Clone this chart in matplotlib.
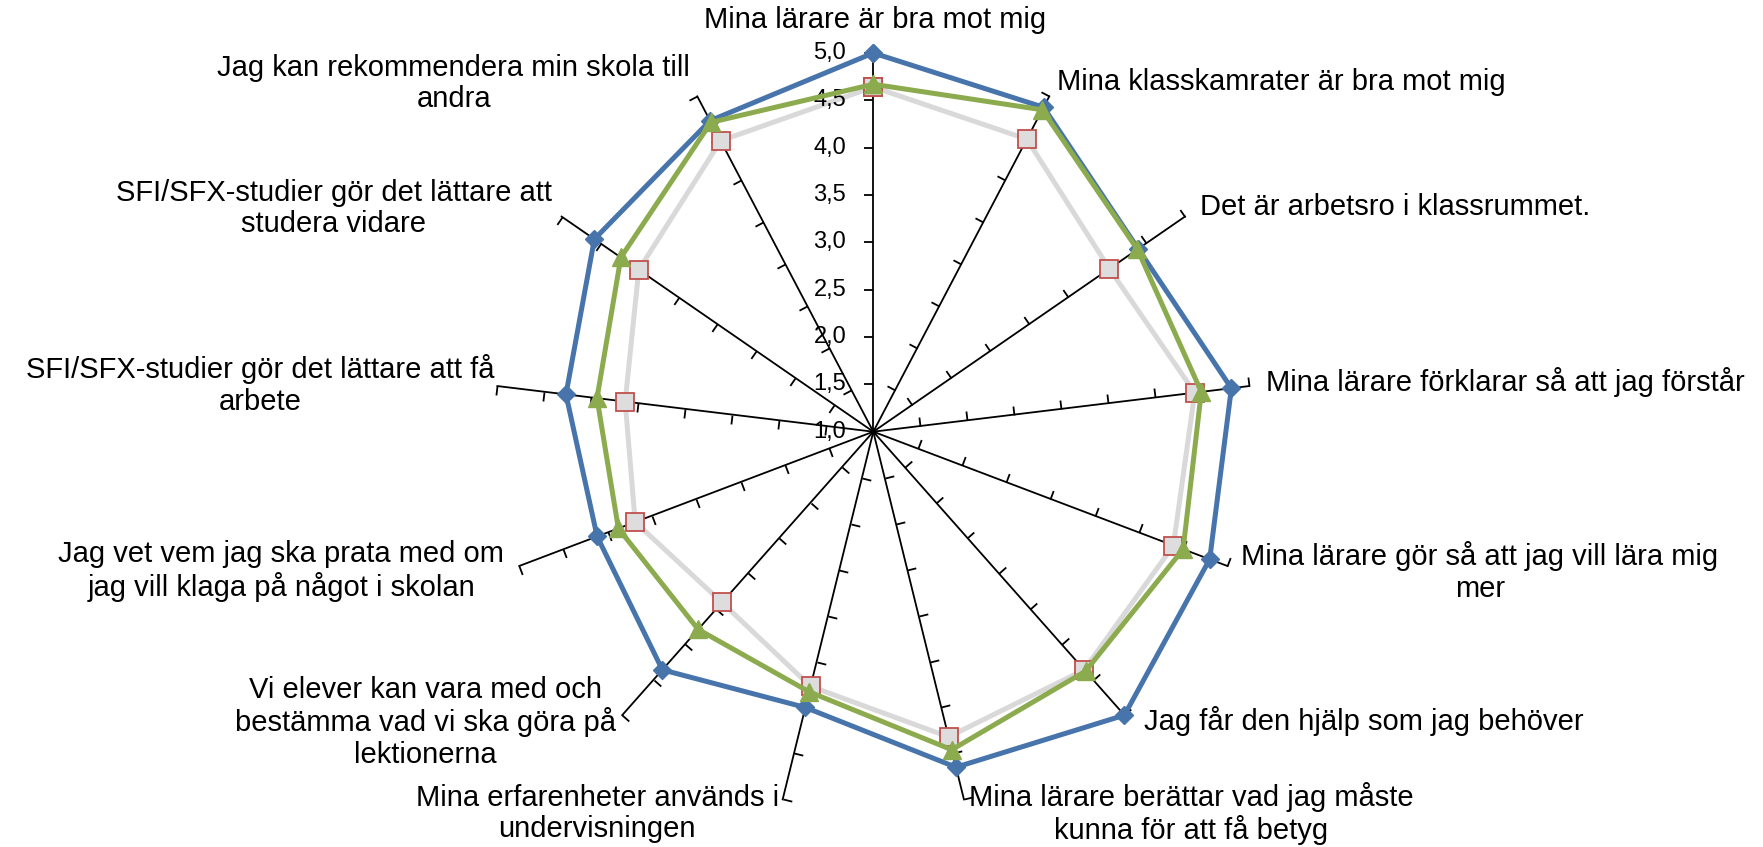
import numpy as np
import matplotlib
matplotlib.use('Agg')
import matplotlib.pyplot as plt
from matplotlib.markers import MarkerStyle
from matplotlib.path import Path

plt.rcParams['font.family'] = ['Liberation Sans', 'DejaVu Sans']

categories = ['Mina lärare är bra mot mig',
              'Mina klasskamrater är bra mot mig',
              'Det är arbetsro i klassrummet.',
              'Mina lärare förklarar så att jag förstår',
              'Mina lärare gör så att jag vill lära mig\nmer',
              'Jag får den hjälp som jag behöver',
              'Mina lärare berättar vad jag måste\nkunna för att få betyg',
              'Mina erfarenheter används i\nundervisningen',
              'Vi elever kan vara med och\nbestämma vad vi ska göra på\nlektionerna',
              'Jag vet vem jag ska prata med om\njag vill klaga på något i skolan',
              'SFI/SFX-studier gör det lättare att få\narbete',
              'SFI/SFX-studier gör det lättare att\nstudera vidare',
              'Jag kan rekommendera min skola till\nandra']

series_blue = [5.00, 4.87, 4.40, 4.81, 4.80, 5.00, 4.65, 4.00, 4.36, 4.12, 4.27, 4.58, 4.71]
series_gray = [4.64, 4.49, 4.03, 4.42, 4.39, 4.36, 4.32, 3.77, 3.41, 3.69, 3.64, 4.01, 4.47]
series_green = [4.67, 4.84, 4.39, 4.49, 4.50, 4.38, 4.46, 3.83, 3.79, 3.88, 3.94, 4.24, 4.69]

r_ticks = [1.0, 1.5, 2.0, 2.5, 3.0, 3.5, 4.0, 4.5, 5.0]
r_tick_labels = ['1,0', '1,5', '2,0', '2,5', '3,0', '3,5', '4,0', '4,5', '5,0']

# label offsets (pixels) from the end of each spoke, plus alignment
label_pos = [((2, 33), 'center'), ((8, 14), 'left'), ((15, 10), 'left'),
             ((17, 4), 'left'), ((14, -6), 'left'), ((20, -6), 'left'),
             ((5, -14), 'left'), ((-4, -14), 'right'), ((-6, -7), 'right'),
             ((-15, -5), 'right'), ((-3, 1), 'right'), ((-10, 8), 'right'),
             ((-7, 13), 'right')]

n = len(categories)
theta = np.arange(n) * 2 * np.pi / n

fig = plt.figure(figsize=(17.63, 8.47), dpi=100)
cx, cy, R = 873.3, 847 - 431.7, 378.7
ax = fig.add_axes([(cx - R) / 1763, (cy - R) / 847, 2 * R / 1763, 2 * R / 847],
                  projection='polar')
ax.set_theta_offset(np.pi / 2)
ax.set_theta_direction(-1)
ax.set_ylim(1, 5)
ax.grid(False)
ax.spines['polar'].set_visible(False)
ax.set_xticks([])
ax.set_yticks([])
ax.patch.set_visible(False)

# spokes with small ticks on the counter-clockwise side
tick_path = Path([(0, 0), (1, 0)], [Path.MOVETO, Path.LINETO])
for t in theta:
    ax.plot([t, t], [1, 5], color='black', linewidth=1.3, zorder=1, clip_on=False)
    # screen direction of spoke is (sin t, cos t); ccw normal is (-cos t, sin t)
    deg = np.degrees(np.arctan2(np.sin(t), -np.cos(t)))
    m = MarkerStyle(tick_path).rotated(deg=deg)
    ax.plot([t] * (len(r_ticks) - 1), r_ticks[1:], linestyle='none', marker=m,
            markersize=13, markeredgewidth=1.3, markeredgecolor='black',
            zorder=1, clip_on=False)

th = np.append(theta, theta[0])
ax.plot(th, series_gray + series_gray[:1], color='#D9D9D9', linewidth=3.6,
        marker='s', markersize=13, markerfacecolor='#DDDDDD',
        markeredgecolor='#C0504D', markeredgewidth=1.3, zorder=3, clip_on=False)
ax.plot(th, series_blue + series_blue[:1], color='#4674AB', linewidth=3.6,
        marker='D', markersize=9, markerfacecolor='#4674AB',
        markeredgecolor='#4674AB', zorder=4, clip_on=False)
ax.plot(th, series_green + series_green[:1], color='#8CAB4E', linewidth=3.6,
        marker='^', markersize=13, markerfacecolor='#8CAB4E',
        markeredgecolor='#8CAB4E', zorder=5, clip_on=False)

# radial value labels along the top spoke
for v, lab in zip(r_ticks, r_tick_labels):
    ax.annotate(lab, xy=(0, v), xytext=(-27, 0), textcoords='offset pixels',
                ha='right', va='center', fontsize=17, annotation_clip=False)

# category labels
for t, lab, (off, ha) in zip(theta, categories, label_pos):
    ax.annotate(lab, xy=(t, 5), xytext=off, textcoords='offset pixels',
                ha=ha, va='center', multialignment='center', fontsize=21,
                linespacing=1.15, annotation_clip=False)

plt.savefig('out.png', dpi=100)
